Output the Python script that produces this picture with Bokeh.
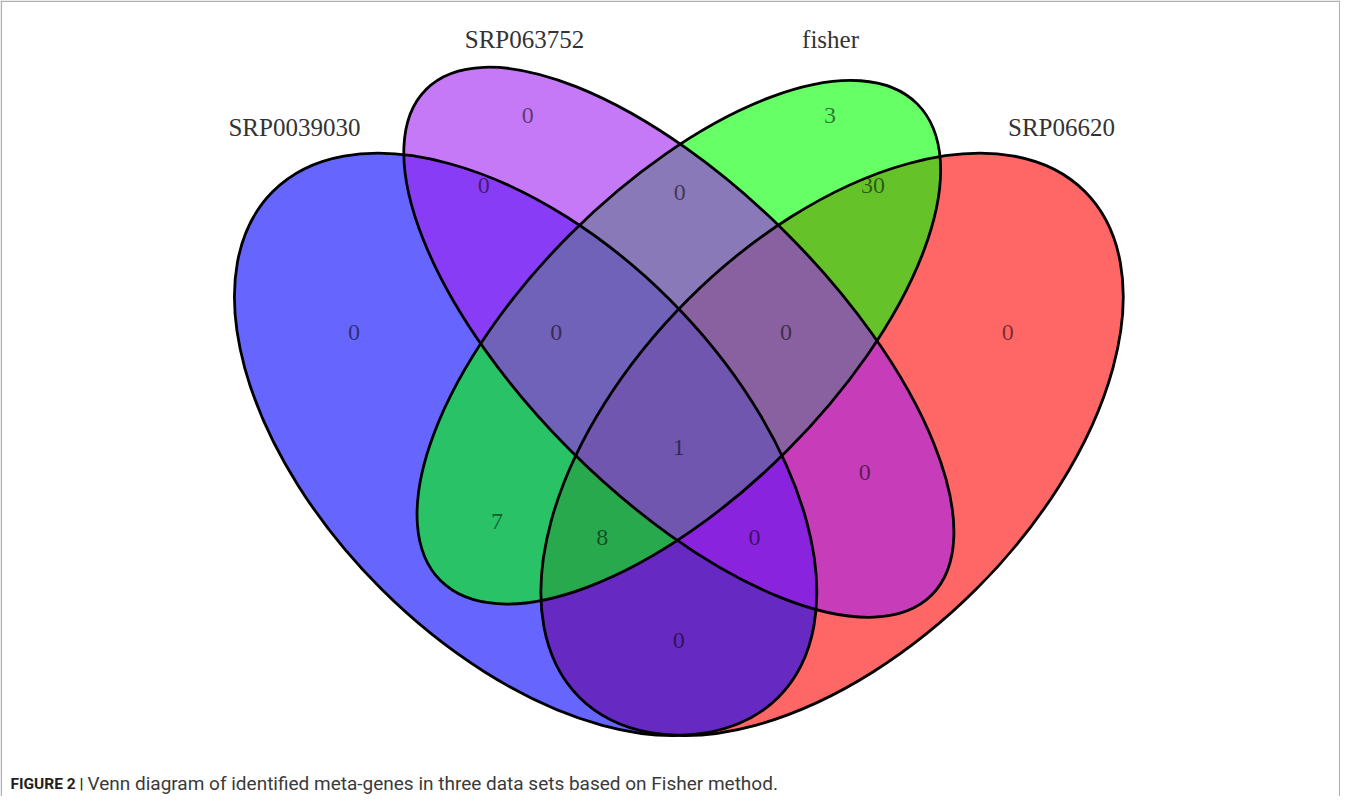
import math
from bokeh.plotting import figure
from bokeh.models import Range1d, ColumnDataSource
from bokeh.core.properties import value
from bokeh.embed import file_html
from bokeh.resources import INLINE

# ---------------- data ----------------
categories = ["SRP0039030", "SRP063752", "fisher", "SRP06620"]
set_colors = ["#0000FF", "#A020F0", "#00FF00", "#FF0000"]
# regions: A=SRP0039030, B=SRP063752, C=fisher, D=SRP06620
region_keys = ["A", "B", "C", "D", "AB", "BC", "CD", "ABC", "BCD",
               "ABCD", "AC", "ACD", "ABD", "BD", "AD"]
region_counts = [0, 0, 3, 0, 0, 0, 30, 0, 0, 1, 7, 8, 0, 0, 0]
caption_bold = "FIGURE 2 |"
caption_text = "Venn diagram of identified meta-genes in three data sets based on Fisher method."

# ---------------- layout (VennDiagram unit square) ----------------
ell_cx = [0.35, 0.50, 0.50, 0.65]
ell_cy = [0.47, 0.57, 0.57, 0.47]
ell_a = [0.35, 0.35, 0.33, 0.35]
ell_b = [0.20, 0.15, 0.15, 0.20]
ell_rot = [135, 135, 45, 45]
draw_order = [3, 0, 2, 1]

region_pos = {
    "A": (0.182, 0.580), "B": (0.352, 0.792), "C": (0.648, 0.792), "D": (0.822, 0.580),
    "AB": (0.309, 0.723), "BC": (0.501, 0.717), "CD": (0.690, 0.723),
    "ABC": (0.380, 0.580), "BCD": (0.605, 0.580), "ABCD": (0.500, 0.467),
    "AC": (0.322, 0.395), "ACD": (0.425, 0.379), "ABD": (0.574, 0.379),
    "BD": (0.682, 0.442), "AD": (0.500, 0.278),
}
cat_pos = [(0.1237, 0.7802), (0.3489, 0.8664), (0.6485, 0.8664), (0.8746, 0.7802)]

# pixel <-> unit mapping of the picture
S = 1021.5
X0, Y0 = 175.6, 932.0
W, H = 1340, 796
OFF = 8

def u(px):
    return (px - X0) / S

def v(py):
    return (Y0 - py) / S

xs, xe = u(OFF), u(OFF + W)
ys, ye = v(OFF + H), v(OFF)

p = figure(width=W, height=H, x_range=Range1d(xs, xe), y_range=Range1d(ys, ye),
           output_backend="svg", toolbar_location=None, min_border=0,
           x_axis_location=None, y_axis_location=None)
p.grid.visible = False
p.outline_line_color = None
p.background_fill_color = "white"
p.border_fill_color = "white"

# frame (left, top, right)
e = 0.8 / S
p.segment(x0=[xs + e, xs, xe - e], y0=[ys, ye - e, ys], x1=[xs + e, xe, xe - e], y1=[ye, ye - e, ye],
          line_color="#b0b0b0", line_width=1.5)

# ellipse fills, in drawing order
src_fill = ColumnDataSource(dict(
    x=[ell_cx[i] for i in draw_order],
    y=[ell_cy[i] for i in draw_order],
    w=[2 * ell_a[i] for i in draw_order],
    h=[2 * ell_b[i] for i in draw_order],
    ang=[math.radians(ell_rot[i]) for i in draw_order],
    c=[set_colors[i] for i in draw_order],
))
p.ellipse(x="x", y="y", width="w", height="h", angle="ang", source=src_fill,
          fill_color="c", fill_alpha=0.6, line_color=None)
p.ellipse(x="x", y="y", width="w", height="h", angle="ang", source=src_fill,
          fill_color=None, line_color="black", line_width=2.8)

# region counts
src_num = ColumnDataSource(dict(
    x=[region_pos[k][0] for k in region_keys],
    y=[region_pos[k][1] for k in region_keys],
    t=[str(c) for c in region_counts],
))
p.text(x="x", y="y", text="t", source=src_num, text_font=value("Liberation Serif"),
       text_font_size="24px", text_align="center", text_baseline="middle",
       text_color="black", text_alpha=0.55)

# category names
src_cat = ColumnDataSource(dict(
    x=[c[0] for c in cat_pos], y=[c[1] for c in cat_pos], t=categories))
p.text(x="x", y="y", text="t", source=src_cat, text_font=value("Liberation Serif"),
       text_font_size="25px", text_align="center", text_baseline="alphabetic",
       text_color="#333333")

# caption
p.text(x=[u(18)], y=[v(791)], text=[caption_bold], text_font=value("Roboto"),
       text_font_style="bold", text_font_size="15.5px", text_align="left",
       text_baseline="alphabetic", text_color="#231f20")
p.text(x=[u(95)], y=[v(791)], text=[caption_text], text_font=value("Roboto"),
       text_font_size="19px", text_align="left",
       text_baseline="alphabetic", text_color="#3a3a3a")

open("out.html", "w").write(file_html(p, INLINE))
